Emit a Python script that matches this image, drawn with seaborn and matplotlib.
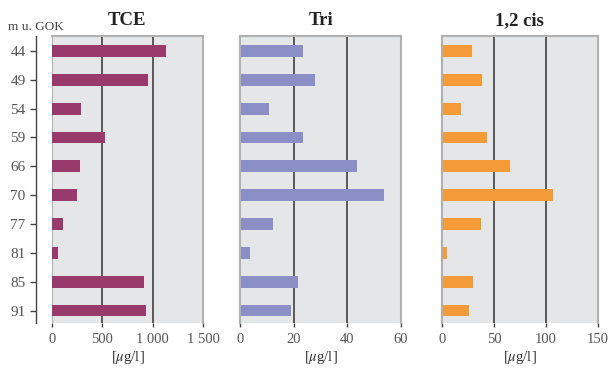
import matplotlib
matplotlib.use("Agg")
import matplotlib.pyplot as plt
import seaborn as sns
import pandas as pd

# Sampling depths (m below ground level) and measured concentrations in µg/l
depths = ["44", "49", "54", "59", "66", "70", "77", "81", "85", "91"]
tce = [1130, 950, 288, 527, 278, 248, 106, 57, 914, 934]
tri = [23.4, 27.9, 10.8, 23.4, 43.6, 53.7, 12.2, 3.7, 21.5, 19.0]
cis12 = [28.9, 38.5, 18.3, 43.4, 65.5, 107, 37.6, 4.8, 29.9, 26.0]

titles = ["TCE", "Tri", "1,2 cis"]
colors = ["#993a6c", "#8b8fc6", "#f59a38"]
xmax = [1500, 60, 150]
xticks = [[0, 500, 1000, 1500], [0, 20, 40, 60], [0, 50, 100, 150]]
xticklabels = [["0", "500", "1 000", "1 500"], ["0", "20", "40", "60"], ["0", "50", "100", "150"]]

sns.set_theme(style="white")
plt.rcParams["font.family"] = ["Liberation Serif", "DejaVu Serif"]
plt.rcParams["mathtext.fontset"] = "stix"

fig = plt.figure(figsize=(6.09, 3.70), dpi=100)
bottom, height = 0.1257, 0.7757
lefts = [0.0854, 0.3946, 0.7258]
widths = [0.2479, 0.2639, 0.2557]

series = [tce, tri, cis12]
grey_edge = "#b0b0b0"
tick_col = "#555555"

for i in range(3):
    ax = fig.add_axes([lefts[i], bottom, widths[i], height])
    df = pd.DataFrame({"Tiefe": depths, "Wert": series[i]})
    ax.set_facecolor("#e5e6e8")
    # interior grid lines
    for t in xticks[i][1:-1]:
        ax.axvline(t, color="#333333", lw=1.1, zorder=0.5)
    sns.barplot(data=df, x="Wert", y="Tiefe", order=depths, orient="h",
                color=colors[i], width=0.41, saturation=1, linewidth=0,
                ax=ax, zorder=2)
    ax.set_xlim(0, xmax[i])
    ax.set_ylim(9.45, -0.5)
    ax.set_xticks(xticks[i])
    ax.set_xticklabels(xticklabels[i], color=tick_col, fontsize=10.5)
    ax.tick_params(axis="x", direction="out", length=3, width=1, color="#444444", pad=4, bottom=True)
    ax.set_xlabel("[$\\mu$g/l]", fontsize=10.5, color="#333333", labelpad=2)
    ax.set_ylabel("")
    ax.set_title(titles[i], fontsize=13.5, fontweight="bold", color="#222222", pad=8)
    for s in ["top", "right"]:
        ax.spines[s].set_visible(True)
        ax.spines[s].set_color(grey_edge)
        ax.spines[s].set_linewidth(1.5)
    ax.spines["bottom"].set_visible(False)
    if i == 0:
        ax.axvline(0, color=grey_edge, lw=1.5, zorder=0.6)
        ax.spines["left"].set_visible(True)
        ax.spines["left"].set_position(("outward", 11.5))
        ax.spines["left"].set_color("#444444")
        ax.spines["left"].set_linewidth(1)
        ax.tick_params(axis="y", direction="out", length=4.5, width=1, color="#444444",
                       left=True, labelsize=11, labelcolor=tick_col, pad=3)
    else:
        ax.spines["left"].set_visible(True)
        ax.spines["left"].set_color(grey_edge)
        ax.spines["left"].set_linewidth(1.5)
        ax.set_yticks([])
        ax.tick_params(axis="y", left=False, labelleft=False)

fig.text(0.013, 0.927, "m u. GOK", fontsize=9.5, color="#444444", ha="left", va="center")

fig.savefig("out.png", dpi=100)
